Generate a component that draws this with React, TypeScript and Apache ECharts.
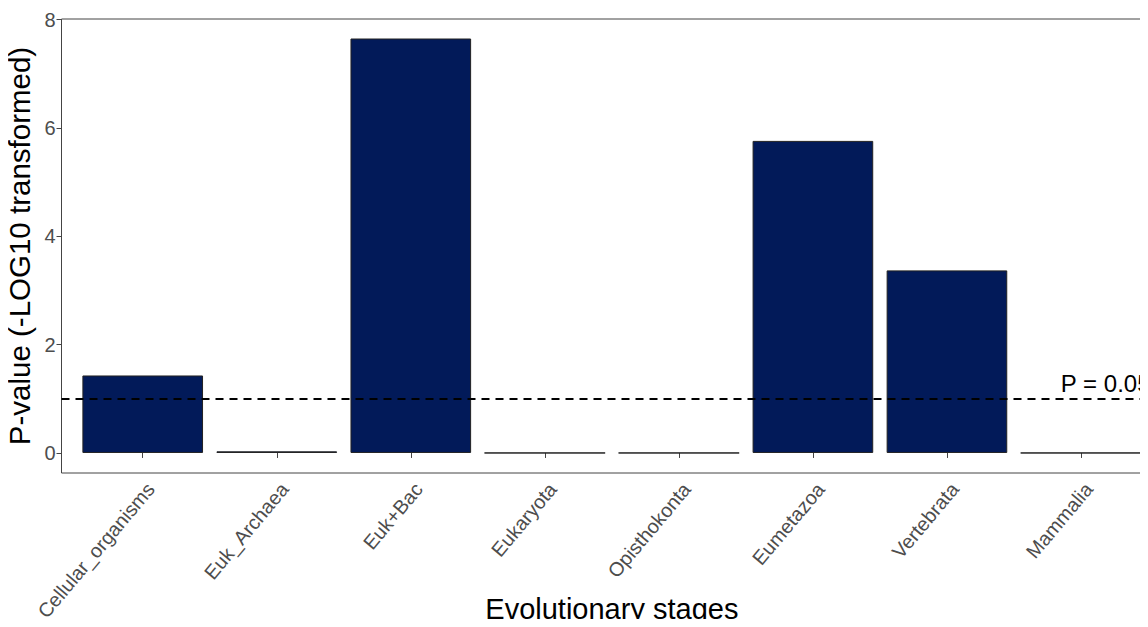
import React, { useEffect, useRef } from "react";
import * as echarts from "echarts";

const categories = [
  "Cellular_organisms",
  "Euk_Archaea",
  "Euk+Bac",
  "Eukaryota",
  "Opisthokonta",
  "Eumetazoa",
  "Vertebrata",
  "Mammalia",
];
const pValues = [1.43, 0.03, 7.65, 0, 0, 5.76, 3.37, 0];
const yTicks = [0, 2, 4, 6, 8];
const thresholdValue = 1;
const thresholdLabel = "P = 0.05";

const FONT = "'Liberation Sans', Arial, sans-serif";
const Y_MIN = -0.37;
const Y_MAX = 8.01;

export default function App() {
  const ref = useRef<HTMLDivElement>(null);
  useEffect(() => {
    if (!ref.current) return;
    const chart = echarts.init(ref.current, null, { renderer: "svg" });
    chart.setOption({
      animation: false,
      backgroundColor: "#ffffff",
      grid: [
        {
          left: 61.5,
          right: -13.5,
          top: 19,
          bottom: 154,
          show: true,
          borderColor: "#444",
          borderWidth: 1,
          backgroundColor: "transparent",
          outerBoundsMode: "none",
          containLabel: false,
        },
        {
          left: 75.7,
          right: 0,
          top: 19,
          bottom: 154,
          outerBoundsMode: "none",
          containLabel: false,
        },
      ],
      xAxis: [
        {
          gridIndex: 0,
          type: "value",
          min: 0,
          max: 1,
          show: false,
        },
        {
          gridIndex: 1,
          type: "category",
          data: categories,
          axisLine: { show: false },
          axisTick: {
            show: true,
            alignWithLabel: true,
            length: 5,
            lineStyle: { color: "#444", width: 1 },
          },
          axisLabel: {
            rotate: 50,
            interval: 0,
            margin: 6,
            align: "right",
            verticalAlign: "top",
            color: "#4d4d4d",
            fontSize: 19.8,
            fontFamily: FONT,
          },
          splitLine: { show: false },
          name: "Evolutionary stages",
          nameLocation: "middle",
          nameGap: 121,
          nameMoveOverlap: false,
          nameTextStyle: { color: "#000", fontSize: 29, fontFamily: FONT },
        },
      ],
      yAxis: [
        {
          gridIndex: 0,
          type: "value",
          min: Y_MIN,
          max: Y_MAX,
          show: false,
        },
        {
          gridIndex: 1,
          type: "value",
          min: Y_MIN,
          max: Y_MAX,
          offset: 14.2,
          axisLine: { show: false },
          axisTick: {
            show: true,
            length: 5,
            customValues: yTicks,
            lineStyle: { color: "#444", width: 1 },
          },
          axisLabel: {
            customValues: yTicks,
            margin: 6,
            color: "#4d4d4d",
            fontSize: 20,
            fontFamily: FONT,
          },
          splitLine: { show: false },
          name: "P-value (-LOG10 transformed)",
          nameLocation: "middle",
          nameGap: 27,
          nameMoveOverlap: false,
          nameTextStyle: { color: "#000", fontSize: 29.5, fontFamily: FONT },
        },
      ],
      series: [
        {
          type: "line",
          xAxisIndex: 0,
          yAxisIndex: 0,
          data: [],
          silent: true,
          markLine: {
            silent: true,
            symbol: ["none", "none"],
            lineStyle: { color: "#000", width: 2, type: [8, 6] },
            label: {
              show: true,
              position: "insideEndTop",
              formatter: thresholdLabel,
              color: "#000",
              fontSize: 24,
              fontFamily: FONT,
              distance: [11, 3],
            },
            data: [{ yAxis: thresholdValue }],
          },
        },
        {
          type: "bar",
          xAxisIndex: 1,
          yAxisIndex: 1,
          data: pValues,
          barCategoryGap: "10%",
          itemStyle: {
            color: "#021a59",
            borderColor: "#222",
            borderWidth: 1,
          },
        },
      ],
    });
    return () => chart.dispose();
  }, []);
  return <div ref={ref} style={{ width: 1148, height: 627, margin: -8 }} />;
}
